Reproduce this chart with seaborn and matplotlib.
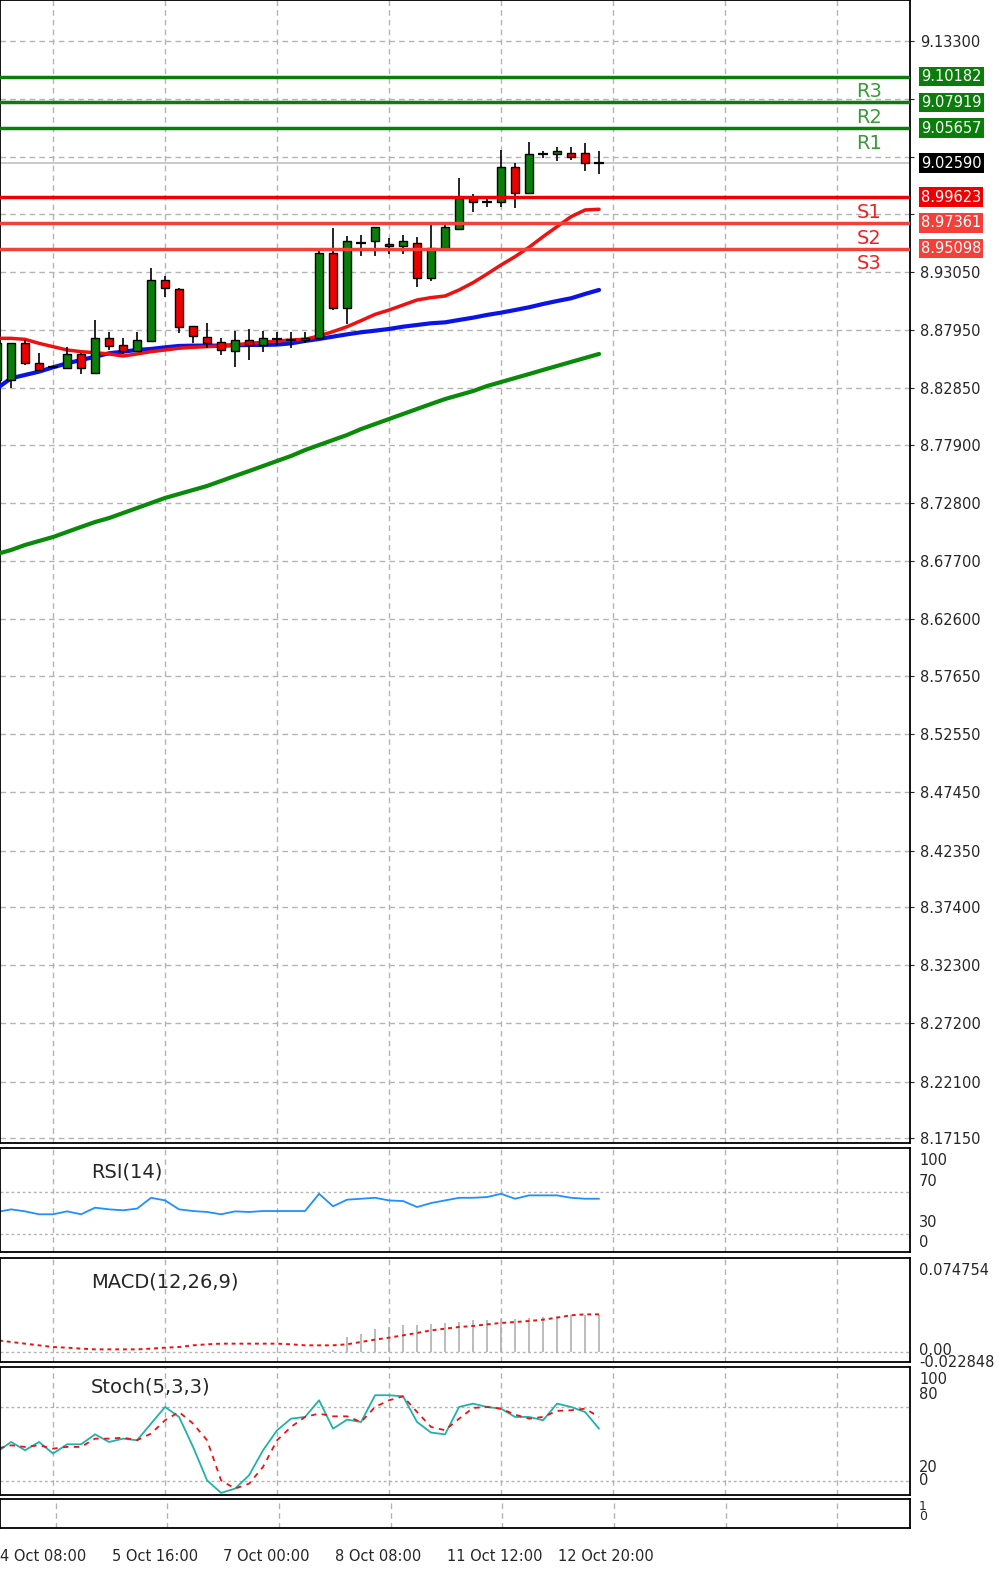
import numpy as np
import pandas as pd
import matplotlib
matplotlib.use("Agg")
import matplotlib.pyplot as plt
import matplotlib.transforms as mtrans
import seaborn as sns

sns.set_style("white")
plt.rcParams['font.family'] = ['DejaVu Sans']

# ---------------- data ----------------
opens = [8.8359, 8.8359, 8.8680, 8.8511, 8.8476, 8.8461, 8.8587, 8.8423, 8.8724, 8.8666, 8.8616,
         8.8704, 8.9235, 8.9156, 8.8832, 8.8739, 8.8695, 8.8616, 8.8709, 8.8666, 8.8716, 8.8709,
         8.8709, 8.8724, 8.9469, 8.8987, 8.9563, 8.9577, 8.9548, 8.9533, 8.9563, 8.9250, 8.9513,
         8.9679, 8.9951, 8.9922, 8.9916, 9.0229, 8.9995, 9.0340, 9.0340, 9.0351, 9.0351, 9.0258]
closes = [8.8680, 8.8680, 8.8505, 8.8447, 8.8476, 8.8587, 8.8461, 8.8724, 8.8660, 8.8616, 8.8709,
          8.9235, 8.9162, 8.8821, 8.8745, 8.8680, 8.8622, 8.8709, 8.8666, 8.8724, 8.8718, 8.8709,
          8.8724, 8.9469, 8.8987, 8.9577, 8.9563, 8.9703, 8.9536, 8.9577, 8.9250, 8.9513, 8.9703,
          8.9951, 8.9916, 8.9922, 9.0229, 8.9995, 9.0337, 9.0340, 9.0369, 9.0310, 9.0258, 9.0259]
highs = [8.8709, 8.8680, 8.8709, 8.8593, 8.8482, 8.8650, 8.8599, 8.8885, 8.8783, 8.8724, 8.8783,
         8.9338, 8.9270, 8.9162, 8.8832, 8.8856, 8.8724, 8.8791, 8.8803, 8.8791, 8.8783, 8.8780,
         8.8783, 8.9504, 8.9688, 8.9621, 8.9630, 8.9703, 8.9601, 8.9630, 8.9609, 8.9738, 8.9732,
         9.0126, 8.9989, 8.9951, 9.0375, 9.0264, 9.0448, 9.0369, 9.0398, 9.0404, 9.0433, 9.0369]
lows = [8.8286, 8.8286, 8.8490, 8.8441, 8.8470, 8.8461, 8.8412, 8.8423, 8.8622, 8.8587, 8.8607,
        8.8704, 8.9089, 8.8768, 8.8686, 8.8636, 8.8578, 8.8470, 8.8534, 8.8607, 8.8666, 8.8636,
        8.8680, 8.8716, 8.8972, 8.8850, 8.9446, 8.9446, 8.9463, 8.9463, 8.9171, 8.9230, 8.9507,
        8.9679, 8.9834, 8.9878, 8.9878, 8.9863, 8.9995, 9.0302, 9.0281, 9.0287, 9.0194, 9.0161]
ma_fast = [8.8724, 8.8724, 8.8715, 8.8680, 8.8651, 8.8622, 8.8607, 8.8598, 8.8587, 8.8569, 8.8587,
           8.8607, 8.8622, 8.8637, 8.8645, 8.8651, 8.8657, 8.8666, 8.8680, 8.8689, 8.8701, 8.8709,
           8.8715, 8.8745, 8.8783, 8.8826, 8.8879, 8.8934, 8.8972, 8.9016, 8.9060, 8.9081, 8.9095,
           8.9148, 8.9212, 8.9288, 8.9367, 8.9440, 8.9522, 8.9615, 8.9703, 8.9790, 8.9849, 8.9855]
ma_mid = [8.8286, 8.8374, 8.8403, 8.8432, 8.8470, 8.8505, 8.8534, 8.8563, 8.8593, 8.8607, 8.8622,
          8.8631, 8.8645, 8.8657, 8.8660, 8.8660, 8.8660, 8.8663, 8.8666, 8.8666, 8.8669, 8.8680,
          8.8701, 8.8718, 8.8739, 8.8759, 8.8777, 8.8791, 8.8806, 8.8826, 8.8841, 8.8856, 8.8864,
          8.8885, 8.8905, 8.8929, 8.8949, 8.8972, 8.8996, 8.9025, 8.9051, 8.9075, 8.9113, 8.9148]
ma_slow = [8.6834, 8.6869, 8.6913, 8.6948, 8.6983, 8.7027, 8.7071, 8.7114, 8.7149, 8.7193, 8.7237,
           8.7281, 8.7325, 8.7360, 8.7395, 8.7430, 8.7474, 8.7518, 8.7561, 8.7605, 8.7649, 8.7693,
           8.7745, 8.7789, 8.7833, 8.7877, 8.7929, 8.7973, 8.8017, 8.8061, 8.8105, 8.8149, 8.8192,
           8.8227, 8.8262, 8.8306, 8.8341, 8.8376, 8.8411, 8.8447, 8.8482, 8.8517, 8.8552, 8.8587]
rsi = [51.1, 53.6, 51.7, 48.9, 48.9, 51.7, 48.9, 55.2, 53.6, 52.7, 54.3, 64.6, 62.1, 53.6, 52.0,
       51.1, 48.9, 51.7, 51.1, 52.0, 52.0, 52.0, 52.0, 68.4, 56.5, 62.8, 63.7, 64.6, 62.1, 61.5,
       55.8, 59.6, 62.1, 64.6, 64.6, 65.3, 68.4, 63.7, 66.9, 66.9, 66.9, 64.6, 63.7, 63.7]
macd_hist = [0]*24 + [0.0020, 0.0160, 0.0196, 0.0249, 0.0267, 0.0285, 0.0285, 0.0303, 0.0310, 0.0320,
                      0.0338, 0.0345, 0.0349, 0.0356, 0.0367, 0.0374, 0.0381, 0.0392, 0.0399, 0.0392]
macd_signal = [0.0125, 0.0107, 0.0089, 0.0071, 0.0053, 0.0046, 0.0036, 0.0028, 0.0028, 0.0028, 0.0028,
               0.0036, 0.0046, 0.0053, 0.0071, 0.0082, 0.0089, 0.0089, 0.0089, 0.0089, 0.0089, 0.0082,
               0.0071, 0.0071, 0.0071, 0.0082, 0.0107, 0.0132, 0.0153, 0.0178, 0.0203, 0.0231, 0.0249,
               0.0267, 0.0278, 0.0295, 0.0310, 0.0320, 0.0331, 0.0345, 0.0367, 0.0392, 0.0402, 0.0402]
stoch_main = [43.5, 51.6, 44.9, 51.6, 42.2, 49.7, 49.7, 57.8, 51.6, 54.3, 53.0, 66.5, 80.0, 71.9, 47.6,
              20.5, 10.3, 13.8, 24.6, 44.9, 61.1, 70.5, 71.9, 85.4, 62.4, 69.7, 67.8, 89.5, 89.5, 88.6,
              67.8, 59.2, 57.8, 80.0, 82.7, 80.0, 78.6, 71.9, 71.9, 69.2, 82.7, 80.0, 75.9, 62.4]
stoch_signal = [46.2, 48.9, 47.6, 48.9, 46.2, 47.6, 47.6, 54.3, 54.3, 55.1, 53.0, 58.4, 69.2, 75.9, 66.5,
                53.0, 20.5, 13.8, 17.8, 31.4, 53.0, 63.8, 71.9, 74.6, 72.4, 72.4, 67.8, 80.0, 85.4, 88.6,
                75.9, 63.8, 61.1, 70.5, 79.2, 80.0, 78.6, 73.8, 70.5, 71.9, 76.8, 77.3, 78.6, 71.9]
levels = [9.10182, 9.07919, 9.05657, 8.99623, 8.97361, 8.95098]
level_names = ["R3", "R2", "R1", "S1", "S2", "S3"]
price_ticks = [9.13300, 9.08250, 9.03150, 8.98100, 8.93050, 8.87950, 8.82850, 8.77900, 8.72800,
               8.67700, 8.62600, 8.57650, 8.52550, 8.47450, 8.42350, 8.37400, 8.32300, 8.27200,
               8.22100, 8.17150]
hidden_ticks = [9.08250, 9.03150, 8.98100]
last_price = 9.02590
rsi_labels = ["100", "70", "30", "0"]
stoch_labels = ["100", "80", "20", "0"]
macd_labels = ["0.074754", "0.00", "-0.022848"]
date_idx = [0, 8, 16, 24, 32, 40]
date_labels = ["4 Oct 08:00", "5 Oct 16:00", "7 Oct 00:00", "8 Oct 08:00", "11 Oct 12:00", "12 Oct 20:00"]

n = len(opens)
idx = np.arange(n)
df = pd.DataFrame(dict(i=idx, o=opens, c=closes, h=highs, l=lows, f=ma_fast, m=ma_mid, s=ma_slow,
                       rsi=rsi, hist=macd_hist, sig=macd_signal, k=stoch_main, d=stoch_signal))

# ---------------- layout ----------------
W, H = 1000, 1583
fig = plt.figure(figsize=(W/100, H/100), dpi=100)
XL, XR = 0, 910
def add_ax(top, bot):
    return fig.add_axes([XL/W, 1 - bot/H, (XR-XL)/W, (bot-top)/H])

ax = add_ax(0, 1143)
ax_rsi = add_ax(1148, 1252)
ax_macd = add_ax(1258, 1362)
ax_st = add_ax(1367, 1495)
ax_e = add_ax(1499, 1528)

px_per_candle = 14.0
x0 = 0.21
xlim = (x0, x0 + (XR-XL)/px_per_candle)
grid_x = np.arange(4, 70, 8)

for a in [ax, ax_rsi, ax_macd, ax_st, ax_e]:
    a.set_xlim(*xlim)
    for gx in grid_x:
        a.axvline(gx, color="#b4b4b4", lw=1, ls=(0, (4, 3)), zorder=0)
    for sp in a.spines.values():
        sp.set_color("black"); sp.set_linewidth(1.3)
    a.set_xticks([])
    a.yaxis.tick_right()
    a.tick_params(axis="y", length=3, labelsize=10.5, pad=4, direction="out")

def right_labels(a, positions, labels, size=10.5):
    # MT4-style labels placed just above their level lines
    a.set_yticks([])
    tr = mtrans.blended_transform_factory(a.transAxes, a.transData)
    for p, lab in zip(positions, labels):
        a.text(1.01, p, lab, transform=tr, fontsize=size, va="center", ha="left", clip_on=False)

# ---------------- main chart ----------------
ax.set_ylim(8.1672, 9.1689)
ax.set_yticks(price_ticks)
ax.set_yticklabels(["" if v in hidden_ticks else f"{v:.5f}" for v in price_ticks])
for t in price_ticks:
    ax.axhline(t, color="#b4b4b4", lw=1, ls=(0, (4, 3)), zorder=0)

sns.lineplot(data=df, x="i", y="s", ax=ax, color="#0a8a0a", lw=3, zorder=3)
sns.lineplot(data=df, x="i", y="m", ax=ax, color="#0a14e6", lw=3, zorder=3)
sns.lineplot(data=df, x="i", y="f", ax=ax, color="#f01010", lw=2.5, zorder=3)

for i in idx:
    o, c, h, l = opens[i], closes[i], highs[i], lows[i]
    ax.vlines(i, l, h, color="black", lw=1.2, zorder=4)
    bot, top = min(o, c), max(o, c)
    col = "#0b7d0b" if c > o else "#ee0000"
    if top - bot < 0.0008:
        ax.hlines(c, i-0.35, i+0.35, color="black", lw=1.6, zorder=5)
    else:
        ax.bar(i, top-bot, bottom=bot, width=0.6, color=col, edgecolor="black", lw=1, zorder=5)

ax.axhline(last_price, color="#c0c0c0", lw=1.2, zorder=2)
trans = mtrans.blended_transform_factory(ax.transAxes, ax.transData)
for lv, nm in zip(levels, level_names):
    col = "#0a7d0a" if nm.startswith("R") else ("#ee0000" if nm == "S1" else "#f5403a")
    ax.axhline(lv, color=col, lw=2.5, zorder=6)
    ax.text(0.955, lv - 0.005, nm, transform=trans, color="#3a9a3a" if nm.startswith("R") else "#f02020",
            fontsize=14, ha="center", va="top", zorder=7)
    ax.text(1.012, lv, f"{lv:.5f}", transform=trans, color="white", fontsize=10.5, va="center", ha="left",
            bbox=dict(boxstyle="square,pad=0.15", fc=col, ec="none"), zorder=8, clip_on=False)
ax.text(1.012, last_price, f"{last_price:.5f}", transform=trans, color="white", fontsize=10.5,
        va="center", ha="left", bbox=dict(boxstyle="square,pad=0.15", fc="black", ec="none"),
        zorder=8, clip_on=False)
ax.set_xlabel(""); ax.set_ylabel("")

# ---------------- RSI ----------------
ax_rsi.set_ylim(13, 112)
for t in [70, 30]:
    ax_rsi.axhline(t, color="#b4b4b4", lw=1, ls=(0, (2, 2)), zorder=0)
sns.lineplot(data=df, x="i", y="rsi", ax=ax_rsi, color="#1e90ff", lw=1.3)
ax_rsi.set_ylim(13, 112)
right_labels(ax_rsi, [100.5, 80.5, 41.4, 22.4], rsi_labels)
ax_rsi.text(0.1, 0.72, "RSI(14)", transform=ax_rsi.transAxes, fontsize=14)

# ---------------- MACD ----------------
ax_macd.axhline(0, color="#b4b4b4", lw=1, ls=(0, (2, 2)), zorder=0)
ax_macd.vlines(df["i"], 0, df["hist"], color="#b0b0b0", lw=1.2)
sns.lineplot(data=df, x="i", y="sig", ax=ax_macd, color="#ee1111", lw=1.4, linestyle=(0, (2, 2)))
ax_macd.set_ylim(-0.0107, 0.1004)
right_labels(ax_macd, [0.0875, 0.0015, -0.0110], macd_labels)
ax_macd.text(0.1, 0.72, "MACD(12,26,9)", transform=ax_macd.transAxes, fontsize=14)

# ---------------- Stoch ----------------
ax_st.set_ylim(8.6, 112.4)
for t in [80, 20]:
    ax_st.axhline(t, color="#b4b4b4", lw=1, ls=(0, (2, 2)), zorder=0)
sns.lineplot(data=df, x="i", y="k", ax=ax_st, color="#20b2aa", lw=1.3)
sns.lineplot(data=df, x="i", y="d", ax=ax_st, color="#ee1111", lw=1.3, linestyle=(0, (3, 3)))
ax_st.set_ylim(8.6, 112.4)
right_labels(ax_st, [101.9, 89.7, 31.3, 20.0], stoch_labels)
ax_st.text(0.1, 0.8, "Stoch(5,3,3)", transform=ax_st.transAxes, fontsize=14)

# ---------------- empty panel + dates ----------------
ax_e.set_ylim(0, 1)
right_labels(ax_e, [0.75, 0.4], ["1", "0"], size=9)
ax_e.set_xticks(date_idx)
ax_e.set_xticklabels(date_labels, ha="left", fontsize=10.5)
ax_e.tick_params(axis="x", length=5, pad=10)

for a in [ax_rsi, ax_macd, ax_st, ax_e]:
    a.set_xlabel(""); a.set_ylabel("")
    if a is not ax_e:
        a.set_xticks([])

fig.savefig("out.png", dpi=100, facecolor="white")
